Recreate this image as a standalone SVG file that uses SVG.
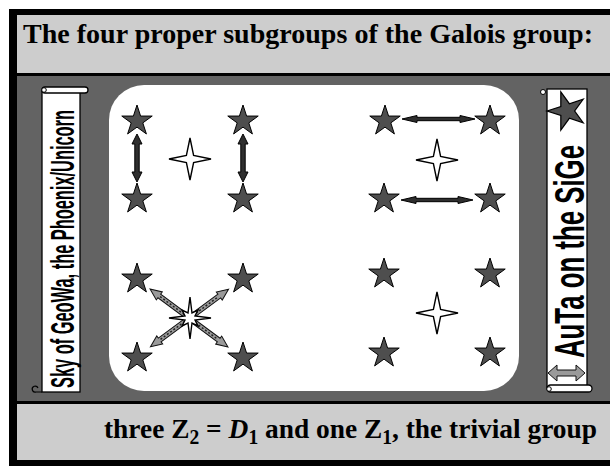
<svg xmlns="http://www.w3.org/2000/svg" width="610" height="466" viewBox="0 0 610 466">
<defs>
<style>
.star{fill:#4e4e4e;stroke:#000;stroke-width:1}
.four{fill:#fff;stroke:#000;stroke-width:1.4}
.arr{fill:#2e2e2e;stroke:#000;stroke-width:1}
.darr{fill:#9a9a9a;stroke:#111;stroke-width:1}
.ttl{font-family:"Liberation Serif","Times New Roman",serif;font-weight:bold;fill:#000}
.scr{font-family:"Liberation Sans",Arial,sans-serif;font-weight:bold;fill:#000}
.paper{fill:#fff;stroke:#000;stroke-width:1.3}
</style>
<path id="s5" d="M0,-16 L3.59,-4.94 L15.22,-4.94 L5.81,1.89 L9.4,12.94 L0,6.11 L-9.4,12.94 L-5.81,1.89 L-15.22,-4.94 L-3.59,-4.94 Z"/>
<path id="s4" d="M0,-21 L3.6,-3.6 L21,0 L3.6,3.6 L0,21 L-3.6,3.6 L-21,0 L-3.6,-3.6 Z"/>
</defs>

<!-- background bands -->
<rect x="0" y="0" width="610" height="466" fill="#fff"/>
<rect x="9" y="9" width="601" height="457" fill="#000"/>
<rect x="17" y="15" width="593" height="58" fill="#cdcdcd"/>
<rect x="17" y="76" width="593" height="325" fill="#636363"/>
<rect x="17" y="404" width="593" height="56" fill="#cdcdcd"/>

<g id="title">
<text class="ttl" x="23" y="43" font-size="28" textLength="570" lengthAdjust="spacingAndGlyphs">The four proper subgroups of the Galois group:</text>
</g>

<g id="panel">
<rect x="109" y="85" width="410" height="306" rx="35" ry="35" fill="#fff"/>
</g>

<g id="left-scroll">
<rect class="paper" x="42" y="91" width="38" height="301"/>
<rect class="paper" x="42" y="87" width="46" height="6" rx="3"/>
<circle cx="44" cy="90" r="2.3" fill="#fff" stroke="#000" stroke-width="1"/>
<path d="M42,392 L36,392 A3,3 0 1 1 38,388" fill="none" stroke="#000" stroke-width="1.2"/>
<text class="scr" transform="translate(74,388) rotate(-90)" font-size="34" textLength="278" lengthAdjust="spacingAndGlyphs">Sky of GeoWa, the Phoenix/Unicorn</text>
</g>

<g id="right-scroll">
<rect class="paper" x="547" y="89" width="40" height="298"/>
<circle cx="543" cy="92" r="2.5" fill="#fff" stroke="#000" stroke-width="1"/>
<rect class="paper" x="547" y="385" width="45" height="7" rx="3.5"/>
<circle cx="549" cy="389" r="2.3" fill="#fff" stroke="#000" stroke-width="1"/>
<use href="#s5" class="star" transform="translate(567,111) rotate(-90) scale(1.25)"/>
<text class="scr" transform="translate(584,358) rotate(-90)" font-size="43" textLength="213" lengthAdjust="spacingAndGlyphs">AuTa on the SiGe</text>
<polygon class="darr" points="548,373 557,365 557,370 576,370 576,365 585,373 576,381 576,376 557,376 557,381"/>
</g>

<g id="connectors">
<polygon class="arr" points="137,134 142,144 139.2,144 139.2,172 142,172 137,182 132,172 134.8,172 134.8,144 132,144"/>
<polygon class="arr" points="243,134 248,144 245.2,144 245.2,172 248,172 243,182 238,172 240.8,172 240.8,144 238,144"/>
<polygon class="arr" points="402,119 417,115.5 417,117.3 460,117.3 460,115.5 475,119 460,122.5 460,120.7 417,120.7 417,122.5"/>
<polygon class="arr" points="401,200 416,196.5 416,198.3 458,198.3 458,196.5 473,200 458,203.5 458,201.7 416,201.7 416,203.5"/>
<g transform="translate(189,318) rotate(36.6)">
<polygon class="darr" points="-48.5,0 -37,-5 -37,-2.3 37,-2.3 37,-5 48.5,0 37,5 37,2.3 -37,2.3 -37,5"/>
<line x1="-36" y1="0" x2="36" y2="0" stroke="#222" stroke-width="1.5" stroke-dasharray="2 2"/>
</g>
<g transform="translate(189.5,318) rotate(-36.4)">
<polygon class="darr" points="-48.5,0 -37,-5 -37,-2.3 37,-2.3 37,-5 48.5,0 37,5 37,2.3 -37,2.3 -37,5"/>
<line x1="-36" y1="0" x2="36" y2="0" stroke="#222" stroke-width="1.5" stroke-dasharray="2 2"/>
</g>
</g>

<g id="q1">
<use href="#s5" class="star" x="137" y="121"/>
<use href="#s5" class="star" x="243" y="121"/>
<use href="#s5" class="star" x="137" y="199"/>
<use href="#s5" class="star" x="243" y="199"/>
<use href="#s4" class="four" x="190" y="159"/>
</g>
<g id="q2">
<use href="#s5" class="star" x="385" y="121"/>
<use href="#s5" class="star" x="490" y="121"/>
<use href="#s5" class="star" x="384" y="199"/>
<use href="#s5" class="star" x="490" y="199"/>
<use href="#s4" class="four" x="437" y="160"/>
</g>
<g id="q3">
<use href="#s5" class="star" x="137" y="279"/>
<use href="#s5" class="star" x="243" y="279"/>
<use href="#s5" class="star" x="137" y="358"/>
<use href="#s5" class="star" x="243" y="358"/>
<path class="four" transform="translate(190,318)" d="M0,-21 L2,-5 L8,-8 L5,-2 L21,0 L5,2 L8,8 L2,5 L0,21 L-2,5 L-8,8 L-5,2 L-21,0 L-5,-2 L-8,-8 L-2,-5 Z"/>
</g>
<g id="q4">
<use href="#s5" class="star" x="384" y="274"/>
<use href="#s5" class="star" x="490" y="274"/>
<use href="#s5" class="star" x="384" y="353"/>
<use href="#s5" class="star" x="490" y="353"/>
<use href="#s4" class="four" x="437" y="313"/>
</g>

<g id="caption">
<text class="ttl" x="104" y="438" font-size="28" textLength="493" lengthAdjust="spacingAndGlyphs">three Z<tspan font-size="20" dy="6">2</tspan><tspan dy="-6"> = </tspan><tspan font-style="italic">D</tspan><tspan font-size="20" dy="6">1</tspan><tspan dy="-6"> and one Z</tspan><tspan font-size="20" dy="6">1</tspan><tspan dy="-6">, the trivial group</tspan></text>
</g>
</svg>
